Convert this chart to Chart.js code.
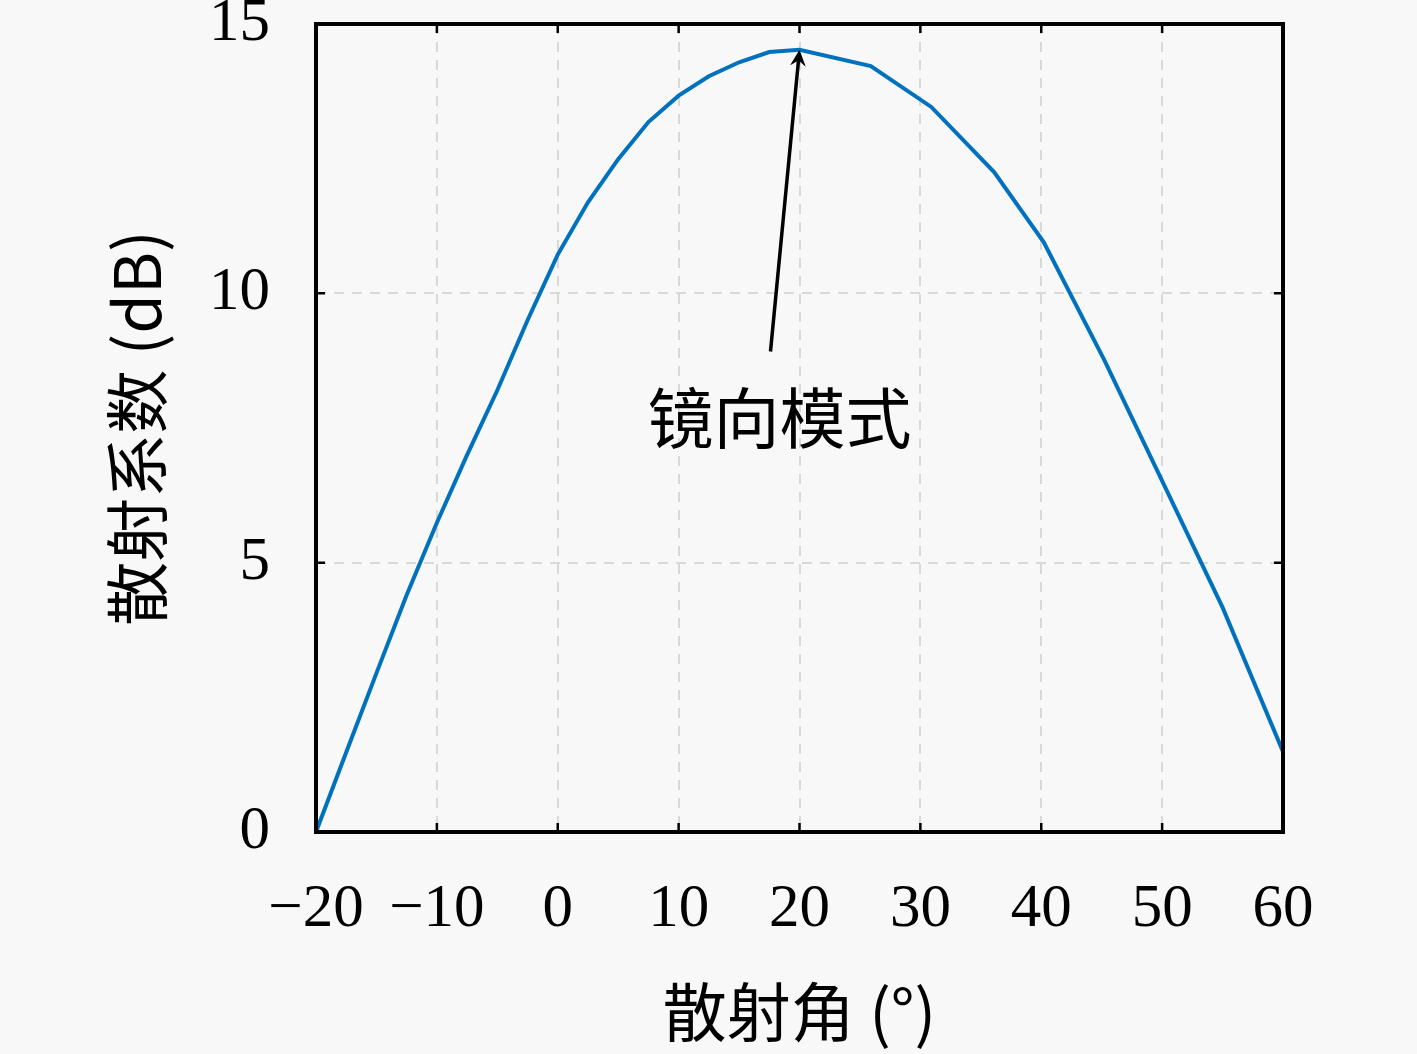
<!DOCTYPE html>
<html lang="zh">
<head>
<meta charset="UTF-8">
<title>散射系数</title>
<script src="https://cdn.jsdelivr.net/npm/chart.js"></script>
<style>
    html, body { margin: 0; padding: 0; background: #f8f8f8; }
    #wrap { width: 1417px; height: 1054px; }
</style>
</head>
<body>
<div id="wrap"><canvas id="c"></canvas></div>
<script>
// scattering angle (deg) and scattering coefficient (dB)
const angles = [-20, -17.5, -15, -12.5, -10, -7.5, -5, -2.5, 0, 2.5, 5, 7.5, 10, 12.5, 15, 17.5, 20,
                25.9, 30.9, 36.1, 40.2, 45.2, 50, 55, 60];
const coef = [0, 1.48, 2.95, 4.4, 5.74, 7.0, 8.2, 9.5, 10.72, 11.69, 12.49, 13.18, 13.67, 14.03, 14.29, 14.48, 14.52,
              14.22, 13.46, 12.25, 10.95, 8.77, 6.52, 4.17, 1.49];
const xTicks = [-20, -10, 0, 10, 20, 30, 40, 50, 60];
const yTicks = [0, 5, 10, 15];

// annotation: arrow from label to the peak
const arrowFrom = {x: 17.6, y: 8.92};
const arrowTo = {x: 20, y: 14.52};
const noteText = '镜向模式';

const serif = '"Liberation Serif", "DejaVu Serif", serif';
const cjk = '"Noto Sans CJK SC", "Liberation Serif", serif';

const framePlugin = {
    id: 'frame',
    afterDraw(chart) {
        const {ctx, chartArea: a, scales: {x, y}} = chart;
        ctx.save();
        // inward ticks
        ctx.strokeStyle = '#000';
        ctx.lineWidth = 2.5;
        const tl = 9;
        xTicks.forEach(v => {
            const px = x.getPixelForValue(v);
            ctx.beginPath();
            ctx.moveTo(px, a.bottom); ctx.lineTo(px, a.bottom - tl);
            ctx.moveTo(px, a.top); ctx.lineTo(px, a.top + tl);
            ctx.stroke();
        });
        yTicks.forEach(v => {
            const py = y.getPixelForValue(v);
            ctx.beginPath();
            ctx.moveTo(a.left, py); ctx.lineTo(a.left + tl, py);
            ctx.moveTo(a.right, py); ctx.lineTo(a.right - tl, py);
            ctx.stroke();
        });
        // box
        ctx.lineWidth = 4;
        ctx.strokeRect(a.left, a.top, a.right - a.left, a.bottom - a.top);

        // arrow
        const x0 = x.getPixelForValue(arrowFrom.x), y0 = y.getPixelForValue(arrowFrom.y);
        const x1 = x.getPixelForValue(arrowTo.x), y1 = y.getPixelForValue(arrowTo.y);
        const ang = Math.atan2(y1 - y0, x1 - x0);
        ctx.lineWidth = 3.5;
        ctx.beginPath();
        ctx.moveTo(x0, y0);
        ctx.lineTo(x1 - 8 * Math.cos(ang), y1 - 8 * Math.sin(ang));
        ctx.stroke();
        const hl = 18, hw = 0.45;
        ctx.fillStyle = '#000';
        ctx.beginPath();
        ctx.moveTo(x1, y1);
        ctx.lineTo(x1 - hl * Math.cos(ang - hw), y1 - hl * Math.sin(ang - hw));
        ctx.lineTo(x1 - 0.6 * hl * Math.cos(ang), y1 - 0.6 * hl * Math.sin(ang));
        ctx.lineTo(x1 - hl * Math.cos(ang + hw), y1 - hl * Math.sin(ang + hw));
        ctx.closePath();
        ctx.fill();

        // label
        ctx.font = '66px ' + cjk;
        ctx.textAlign = 'center';
        ctx.textBaseline = 'middle';
        ctx.fillText(noteText, x0 + 9, y0 + 66);
        ctx.restore();
    }
};

new Chart(document.getElementById('c'), {
    type: 'line',
    data: {
        datasets: [{
            data: angles.map((a, i) => ({x: a, y: coef[i]})),
            borderColor: '#0072bd',
            borderWidth: 4,
            pointRadius: 0,
            tension: 0,
            fill: false
        }]
    },
    options: {
        responsive: true,
        maintainAspectRatio: false,
        animation: false,
        layout: { padding: {top: 24, right: 134, left: 0, bottom: 0} },
        plugins: { legend: {display: false}, tooltip: {enabled: false} },
        scales: {
            x: {
                type: 'linear',
                min: -20, max: 60,
                afterBuildTicks: s => { s.ticks = xTicks.map(v => ({value: v})); },
                afterFit: s => { s.height = 222; s.paddingLeft = 0; s.paddingRight = 0; },
                border: {display: false, dash: [10, 8]},
                grid: { color: '#d9d9d9', lineWidth: 2, drawTicks: false },
                ticks: {
                    color: '#000',
                    font: {family: serif, size: 61},
                    padding: 41,
                    maxRotation: 0,
                    callback: v => (v < 0 ? '\u2212' + Math.abs(v) : String(v))
                },
                title: {
                    display: true,
                    text: '散射角 (°)',
                    color: '#000',
                    font: {family: cjk, size: 64},
                    padding: {top: 0, bottom: 4}
                }
            },
            y: {
                min: 0, max: 15,
                afterBuildTicks: s => { s.ticks = yTicks.map(v => ({value: v})); },
                afterFit: s => { s.width = 316; s.paddingTop = 0; s.paddingBottom = 0; },
                border: {display: false, dash: [10, 8]},
                grid: { color: '#d9d9d9', lineWidth: 2, drawTicks: false },
                ticks: {
                    color: '#000',
                    font: {family: serif, size: 61},
                    padding: 46
                },
                title: {
                    display: true,
                    text: '散射系数 (dB)',
                    color: '#000',
                    font: {family: cjk, size: 64},
                    padding: {top: 98, bottom: 0}
                }
            }
        }
    },
    plugins: [framePlugin]
});
</script>
</body>
</html>
